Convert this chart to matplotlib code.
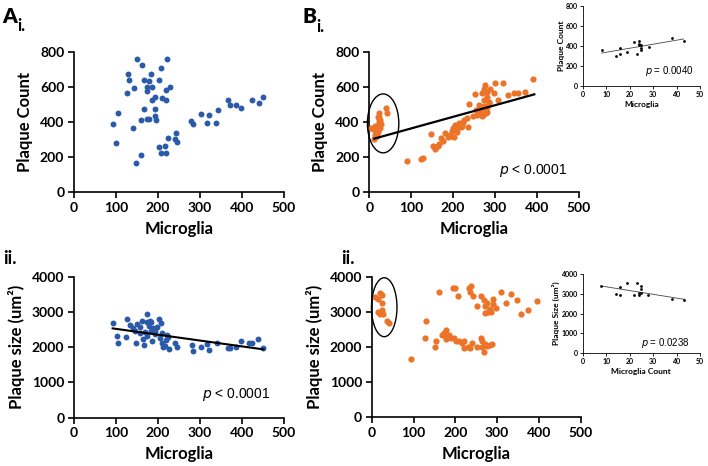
"""Microglia vs plaque scatter panels (A: blue, B: orange with insets)."""

import matplotlib

matplotlib.use("Agg")

import matplotlib.pyplot as plt
from matplotlib.patches import Ellipse

BLUE = "#2b5aa8"
ORANGE = "#ec7428"

# ---- panel A i: microglia vs plaque count
ai_x = [92, 101, 104, 126, 128, 130, 140, 143, 148, 149, 160, 160, 162, 166, 167, 173, 175, 178, 175, 178,
        183, 185, 186, 192, 193, 192, 196, 203, 202, 208, 208, 210, 217, 219, 218, 219, 221, 224, 229, 243,
        240, 245, 279, 283, 302, 317, 321, 338, 342, 367, 371, 385, 397, 423, 440, 451]
ai_y = [389, 280, 451, 568, 672, 638, 366, 594, 164, 762, 213, 413, 724, 474, 638, 415, 602, 636, 575, 415,
        674, 598, 524, 545, 476, 436, 413, 642, 259, 707, 225, 537, 265, 225, 585, 524, 762, 307, 598, 337,
        303, 288, 408, 390, 444, 392, 438, 396, 467, 524, 495, 495, 478, 524, 507, 543]

# ---- panel A ii: microglia vs plaque size
aii_x = [92, 102, 104, 127, 125, 133, 141, 145, 149, 148, 156, 157, 163, 166, 164, 175, 175, 179, 183, 170,
         183, 173, 186, 189, 193, 194, 203, 208, 210, 205, 209, 216, 221, 225, 226, 219, 240, 245, 281, 283,
         302, 317, 322, 340, 367, 371, 385, 397, 417, 424, 438, 451, 180, 197, 212]
aii_y = [2686, 2326, 2128, 2791, 2281, 2621, 2553, 2468, 2658, 2111, 2565, 2394, 2735, 2062, 2224, 2942,
         2706, 2610, 2706, 2431, 2468, 2326, 2167, 2545, 2366, 2468, 2800, 2686, 2403, 2252, 2111, 2043,
         2346, 2281, 1957, 2204, 2111, 2014, 2062, 1892, 2014, 2100, 1920, 2128, 1968, 1968, 2014, 2184,
         2128, 2111, 2224, 1967, 2750, 2580, 2000]
aii_fit_x = [92, 451]
aii_fit_y = [2534, 1939]

# ---- panel B i
bi_x = [39, 43, 24, 22, 26, 20, 9, 15, 26, 14, 12, 20, 4, 13, 18, 19, 24, 28, 16, 21,
        91, 123, 129, 147, 152, 158, 159, 166, 171, 176, 181, 195, 203, 198, 209, 200, 205, 215, 223, 227,
        233, 236, 239, 252, 263, 273, 276, 270, 280, 289, 297, 300, 319, 332, 346, 355, 372, 392, 282, 307,
        286, 247, 256, 262, 265, 268, 275, 280, 282, 272, 286, 275, 218, 222, 213, 209, 189, 193, 163,
        270, 276, 264, 278, 260, 255]
bi_y = [478, 450, 450, 430, 411, 383, 358, 360, 364, 326, 305, 345, 368, 379, 370, 322, 404, 389, 337, 429,
        177, 189, 193, 330, 265, 246, 259, 274, 307, 293, 335, 320, 316, 347, 345, 364, 381, 393, 400, 411,
        421, 370, 503, 562, 497, 587, 613, 564, 573, 590, 564, 623, 621, 556, 566, 566, 573, 647, 545, 527,
        510, 432, 438, 465, 480, 432, 490, 486, 455, 442, 516, 524, 370, 375, 379, 366, 312, 328, 265,
        487, 473, 459, 450, 446, 469]
bi_fit_x = [12, 394]
bi_fit_y = [305, 558]

# ---- panel B ii
bii_x = [8, 20, 24, 14, 25, 16, 22, 28, 25, 37, 42, 19,
         161, 195, 199, 206, 233, 237, 236, 242, 261, 269, 289, 289, 252, 271, 276, 282, 271, 279, 285, 297,
         310, 333, 322, 348, 357, 375, 395,
         131, 128, 155, 151, 177, 174, 169, 180, 185, 178, 190, 198, 202, 209, 222, 215, 221, 230, 239, 234,
         253, 261, 265, 263, 269, 275, 283, 287, 271, 93]
bii_y = [3430, 3544, 3478, 3356, 3259, 2985, 3002, 2945, 3050, 2728, 2680, 2936,
         3555, 3686, 3686, 3450, 3686, 3743, 3555, 3450, 3450, 3336, 3356, 3222, 3165, 3165, 3259, 3070,
         2974, 3002, 2993, 3099, 3555, 3498, 3242, 3344, 2936, 3042, 3299,
         2728, 2261, 2158, 2004, 2472, 2386, 2338, 2300, 2330, 2230, 2260, 2243, 2158, 2167, 2175, 2101,
         1967, 2004, 2118, 1967, 2004, 2252, 2175, 2004, 1862, 2024, 2053, 2073, 2081, 1645]

# ---- insets (circled subgroup)
ins1_x = [8, 14, 16, 16, 19, 22, 23, 24, 24, 25, 25, 25, 24, 28, 38, 43]
ins1_y = [356, 299, 376, 319, 339, 437, 323, 447, 420, 407, 376, 356, 407, 387, 477, 450]
ins1_fit_x = [8, 43]
ins1_fit_y = [329, 470]

ins2_x = [8, 14, 16, 16, 19, 22, 23, 24, 25, 25, 25, 24, 28, 38, 43]
ins2_y = [3397, 2996, 2929, 3314, 3548, 2929, 3515, 2929, 3397, 3230, 3046, 3012, 2929, 2728, 2678]
ins2_fit_x = [8, 43.5]
ins2_fit_y = [3381, 2711]

FONT = "Lato"
plt.rcParams["font.family"] = [FONT, "DejaVu Sans"]


def style_axes(ax, xmax, xstep, ymax, ystep, xlabel, ylabel, small=False):
    for side in ["top", "right"]:
        ax.spines[side].set_visible(False)
    lw = 0.6 if small else 1.2
    for side in ["left", "bottom"]:
        ax.spines[side].set_linewidth(lw)
    ax.set_xlim(0, xmax)
    ax.set_ylim(0, ymax)
    ax.set_xticks(range(0, xmax + 1, xstep))
    ax.set_yticks(range(0, ymax + 1, ystep))
    if small:
        ax.tick_params(length=2, width=0.6, pad=1.5, labelsize=5)
        for lab in ax.get_xticklabels() + ax.get_yticklabels():
            lab.set_fontweight("bold")
        ax.set_xlabel(xlabel, fontsize=6, fontweight="bold", labelpad=2)
        ax.set_ylabel(ylabel, fontsize=6, fontweight="bold", labelpad=1)
    else:
        ax.tick_params(length=4, width=1.2, pad=3, labelsize=10)
        for lab in ax.get_xticklabels() + ax.get_yticklabels():
            lab.set_fontweight("bold")
        ax.set_xlabel(xlabel, fontsize=12, fontweight="bold", labelpad=5)
        ax.set_ylabel(ylabel, fontsize=12, fontweight="bold", labelpad=5)


def ptext(ax, x, y, rel, value, size):
    ax.text(x, y, f"$\\it{{p}}$ {rel} {value}", ha="right", va="center", fontsize=size,
            family=["Liberation Sans"])


fig = plt.figure(figsize=(7.08, 4.66), dpi=100)

ax_ai = fig.add_axes([0.1045, 0.588, 0.2966, 0.3004])
ax_ai.scatter(ai_x, ai_y, s=18, color=BLUE, linewidths=0, clip_on=False, zorder=3)
style_axes(ax_ai, 500, 100, 800, 200, "Microglia", "Plaque Count")

ax_aii = fig.add_axes([0.1045, 0.1036, 0.2966, 0.3026])
ax_aii.scatter(aii_x, aii_y, s=18, color=BLUE, linewidths=0, clip_on=False, zorder=3)
ax_aii.plot(aii_fit_x, aii_fit_y, color="black", linewidth=1.5, zorder=4)
ptext(ax_aii, 467, 650, "<", "0.0001", 10)
style_axes(ax_aii, 500, 100, 4000, 1000, "Microglia", "Plaque size (um²)")

ax_bi = fig.add_axes([0.5216, 0.588, 0.2958, 0.3004])
ax_bi.scatter(bi_x, bi_y, s=20, color=ORANGE, linewidths=0, clip_on=False, zorder=3)
ax_bi.plot(bi_fit_x, bi_fit_y, color="black", linewidth=1.6, zorder=4)
ax_bi.add_patch(Ellipse((33, 392), 75, 337, fill=False, edgecolor="black", linewidth=1.0,
                        clip_on=False, zorder=5))
ptext(ax_bi, 474, 120, "<", "0.0001", 10)
style_axes(ax_bi, 500, 100, 800, 200, "Microglia", "Plaque Count")

ax_bii = fig.add_axes([0.525, 0.1052, 0.2952, 0.301])
ax_bii.scatter(bii_x, bii_y, s=20, color=ORANGE, linewidths=0, clip_on=False, zorder=3)
ax_bii.add_patch(Ellipse((30, 3130), 61, 1682, fill=False, edgecolor="black", linewidth=1.0,
                         clip_on=False, zorder=5))
style_axes(ax_bii, 500, 100, 4000, 1000, "Microglia", "Plaque size (um²)")

ax_in1 = fig.add_axes([0.8234, 0.8155, 0.1653, 0.1717])
ax_in1.scatter(ins1_x, ins1_y, s=4, color="black", linewidths=0, zorder=3)
ax_in1.plot(ins1_fit_x, ins1_fit_y, color="#444444", linewidth=0.6)
ptext(ax_in1, 47.2, 153, "=", "0.0040", 7)
style_axes(ax_in1, 50, 10, 800, 200, "Microglia", "Plaque Count", small=True)

ax_in2 = fig.add_axes([0.823, 0.2418, 0.1657, 0.1708])
ax_in2.scatter(ins2_x, ins2_y, s=4, color="black", linewidths=0, zorder=3)
ax_in2.plot(ins2_fit_x, ins2_fit_y, color="#444444", linewidth=0.6)
ptext(ax_in2, 45.7, 535, "=", "0.0238", 7)
style_axes(ax_in2, 50, 10, 4000, 1000, "Microglia Count", "Plaque Size (um²)", small=True)

# panel letters
fig.text(2 / 708, 1 - 23 / 466, "A", fontsize=15, fontweight="heavy", ha="left", va="baseline")
fig.text(17 / 708, 1 - 31 / 466, "i.", fontsize=12, fontweight="bold", ha="left", va="baseline")
fig.text(302 / 708, 1 - 23 / 466, "B", fontsize=15, fontweight="heavy", ha="left", va="baseline")
fig.text(316 / 708, 1 - 32 / 466, "i.", fontsize=12, fontweight="bold", ha="left", va="baseline")
fig.text(3 / 708, 1 - 264 / 466, "ii.", fontsize=13, fontweight="bold", ha="left", va="baseline")
fig.text(341 / 708, 1 - 264 / 466, "ii.", fontsize=13, fontweight="bold", ha="left", va="baseline")

fig.savefig("out.png")
plt.close(fig)
